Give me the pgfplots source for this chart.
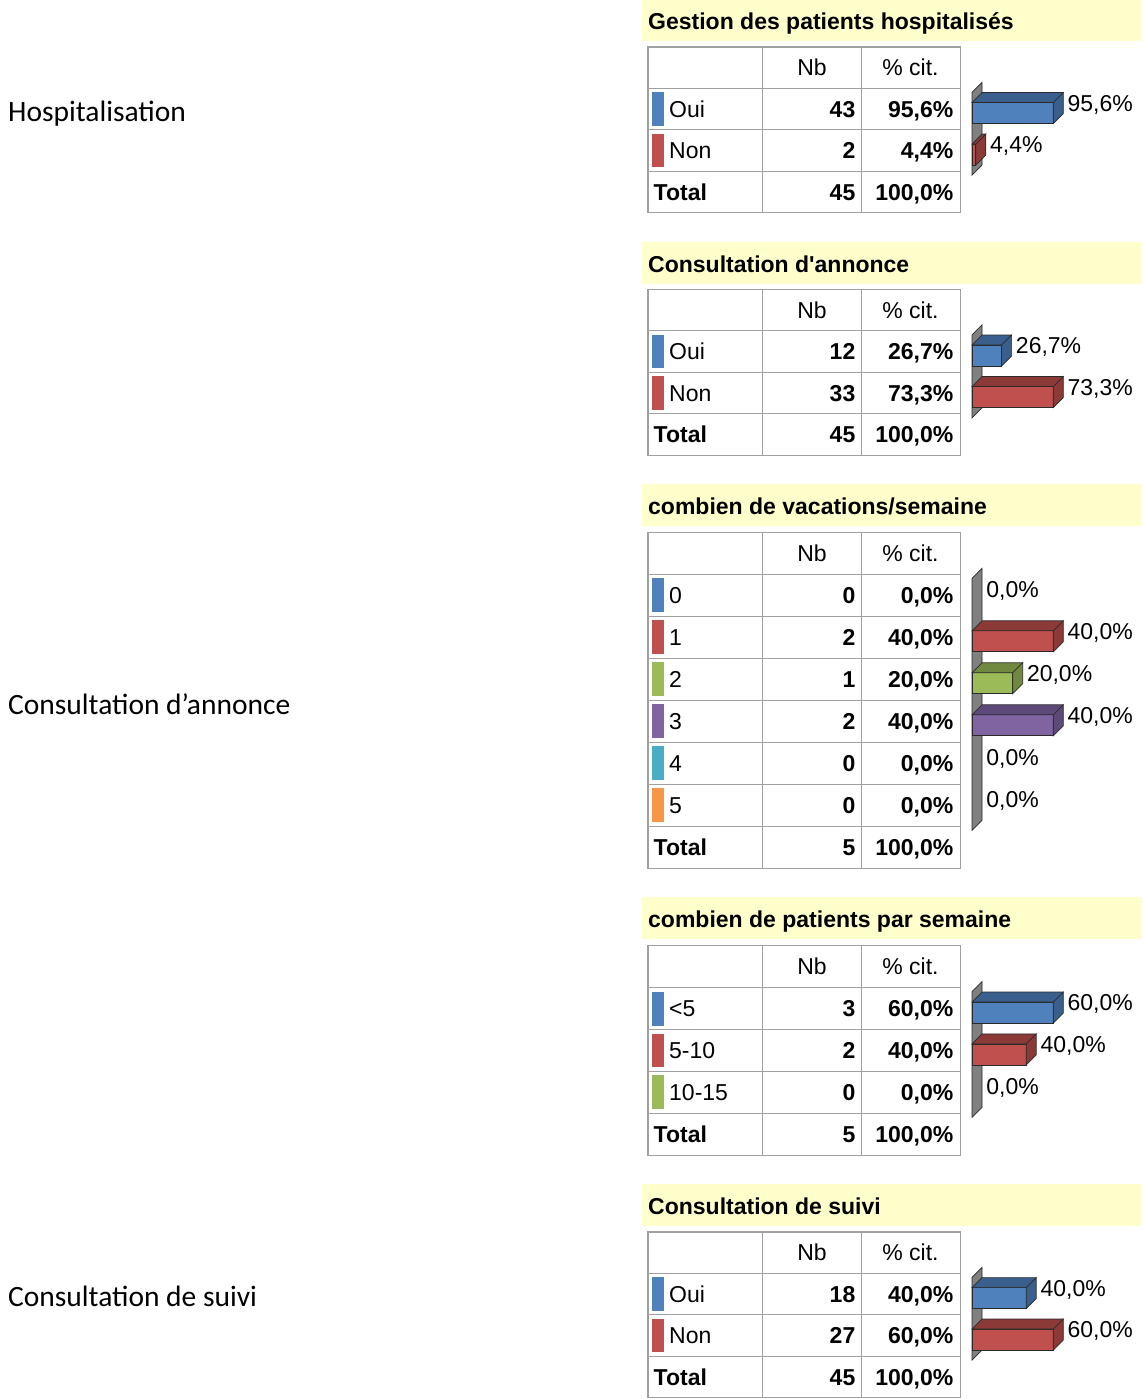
\documentclass[border=0pt]{standalone}
\usepackage{fontspec}
\setmainfont{Liberation Sans}
\newfontfamily\calibri{Carlito}
\usepackage{pgfplots}
\pgfplotsset{compat=1.18}
\definecolor{cblue}{HTML}{4F81BD}
\definecolor{dblue}{HTML}{3A5F8C}
\definecolor{cred}{HTML}{C0504D}
\definecolor{dred}{HTML}{8B3A38}
\definecolor{cgreen}{HTML}{9BBB59}
\definecolor{dgreen}{HTML}{71893F}
\definecolor{cpurple}{HTML}{8064A2}
\definecolor{dpurple}{HTML}{5D4A7A}
\definecolor{caqua}{HTML}{4BACC6}
\definecolor{corange}{HTML}{F79646}
\definecolor{titlebg}{HTML}{FFFFCC}
\definecolor{grid}{HTML}{A0A0A0}
\definecolor{wall}{HTML}{808080}
\definecolor{edge}{HTML}{2A2A2A}

\newcommand\fs{\fontsize{23}{27}\selectfont}
\def\xu{1}
\pgfdeclareplotmark{box3d}{%
  \pgfmathsetmacro\barL{\pval*\xu}%
  \pgfpathmoveto{\pgfpoint{-\barL pt}{10.5pt}}%
  \pgfpathlineto{\pgfpoint{0pt}{10.5pt}}%
  \pgfpathlineto{\pgfpoint{10pt}{20.5pt}}%
  \pgfpathlineto{\pgfpoint{-\barL pt+10pt}{20.5pt}}%
  \pgfpathclose
  \pgfpathmoveto{\pgfpoint{0pt}{-10.5pt}}%
  \pgfpathlineto{\pgfpoint{0pt}{10.5pt}}%
  \pgfpathlineto{\pgfpoint{10pt}{20.5pt}}%
  \pgfpathlineto{\pgfpoint{10pt}{-0.5pt}}%
  \pgfpathclose
  \pgfusepathqfillstroke
}
\pgfdeclareplotmark{nothing}{}
\pgfplotsset{
  front/.style={xbar, bar shift=0pt, bar width=21pt, fill=#1, draw=edge, line width=0.7pt},
  faces/.style={only marks, mark=box3d, mark options={fill=#1, draw=edge, line width=0.7pt},
    visualization depends on={value \thisrow{x}\as\pval},
    nodes near coords={\pgfmathprintnumber[fixed,fixed zerofill,precision=1,use comma,assume math mode=true]{\pval}\%},
    nodes near coords style={anchor=base west, inner sep=0pt, xshift=14pt, yshift=1.8pt, font=\fs, text=black}},
  zero/.style={faces=black, mark=nothing},
  bars/.style={anchor=north west, hide axis, clip=false, xmin=0, y dir=reverse, ymin=-0.5, y=#1 pt},
}

\newcommand\titlebar[2]{%
  \fill[titlebg] (642pt,{-#1*1pt}) rectangle (1142pt,{-(#1+41.5)*1pt});
  \node[anchor=base west,inner sep=0pt,font=\fs\bfseries] at (648pt,{-(#1+30)*1pt}) {#2};}
\newcommand\tgrid[3]{%
  \foreach \i in {0,...,#3} \draw[grid,line width=1.3pt,line cap=rect] (648pt,{-(#1+\i*#2)*1pt}) -- (960.5pt,{-(#1+\i*#2)*1pt});
  \foreach \xx in {648,762.5,861.5,960.5} \draw[grid,line width=1.3pt,line cap=rect] (\xx pt,{-#1*1pt}) -- (\xx pt,{-(#1+#3*#2)*1pt});
  \node[anchor=base,inner sep=0pt,font=\fs] at (812pt,{-(#1+0.5*#2+8.2)*1pt}) {Nb};
  \node[anchor=base,inner sep=0pt,font=\fs] at (910.5pt,{-(#1+0.5*#2+8.2)*1pt}) {\% cit.};}
\newcommand\drow[7]{%
  \fill[#4] (652pt,{-(#1+#3*#2+4)*1pt}) rectangle (663.5pt,{-(#1+(#3+1)*#2-4)*1pt});
  \node[anchor=base west,inner sep=0pt,font=\fs] at (669pt,{-(#1+(#3+0.5)*#2+8.2)*1pt}) {#5};
  \node[anchor=base east,inner sep=0pt,font=\fs\bfseries] at (855.5pt,{-(#1+(#3+0.5)*#2+8.2)*1pt}) {#6};
  \node[anchor=base east,inner sep=0pt,font=\fs\bfseries] at (953.5pt,{-(#1+(#3+0.5)*#2+8.2)*1pt}) {#7};}
\newcommand\trow[5]{%
  \node[anchor=base west,inner sep=0pt,font=\fs\bfseries] at (653.5pt,{-(#1+(#3+0.5)*#2+8.2)*1pt}) {Total};
  \node[anchor=base east,inner sep=0pt,font=\fs\bfseries] at (855.5pt,{-(#1+(#3+0.5)*#2+8.2)*1pt}) {#4};
  \node[anchor=base east,inner sep=0pt,font=\fs\bfseries] at (953.5pt,{-(#1+(#3+0.5)*#2+8.2)*1pt}) {#5};}

\begin{document}
\begin{tikzpicture}
\useasboundingbox (0,0) rectangle (1144pt,-1399pt);
% left labels
\node[anchor=base west,inner sep=0pt,font=\calibri\fontsize{29.5}{34}\selectfont] at (8pt,-121.7pt) {Hospitalisation};
\node[anchor=base west,inner sep=0pt,font=\calibri\fontsize{29.5}{34}\selectfont] at (8pt,-714.7pt) {Consultation d’annonce};
\node[anchor=base west,inner sep=0pt,font=\calibri\fontsize{29.5}{34}\selectfont] at (8pt,-1306pt) {Consultation de suivi};

% ---------- Section 1
\titlebar{0}{Gestion des patients hospitalisés}
\tgrid{47}{41.4}{4}
\drow{47}{41.4}{1}{cblue}{Oui}{43}{95,6\%}
\drow{47}{41.4}{2}{cred}{Non}{2}{4,4\%}
\trow{47}{41.4}{3}{45}{100,0\%}
\pgfmathsetmacro\xu{81.3/95.6}
\begin{axis}[bars=41.4, at={(972pt,{-(47+41.4+4)*1pt})}, x=\xu pt, xmax=95.6, ymax=1.5]
\filldraw[fill=wall,draw=edge,line width=0.7pt] (axis cs:0,-0.5) -- (axis cs:0,1.5) -- ++(10pt,10pt) -- ([shift={(10pt,10pt)}]axis cs:0,-0.5) -- cycle;
\addplot[front=cblue] table[row sep=\\]{x y\\ 95.6 0\\};
\addplot[faces=dblue] table[row sep=\\]{x y\\ 95.6 0\\};
\addplot[front=cred] table[row sep=\\]{x y\\ 4.4 1\\};
\addplot[faces=dred] table[row sep=\\]{x y\\ 4.4 1\\};
\end{axis}

% ---------- Section 2
\titlebar{242}{\addfontfeatures{Ligatures=TeXOff}Consultation d'annonce}
\tgrid{289.3}{41.5}{4}
\drow{289.3}{41.5}{1}{cblue}{Oui}{12}{26,7\%}
\drow{289.3}{41.5}{2}{cred}{Non}{33}{73,3\%}
\trow{289.3}{41.5}{3}{45}{100,0\%}
\pgfmathsetmacro\xu{81.3/73.3}
\begin{axis}[bars=41.5, at={(972pt,{-(289.3+41.5+4)*1pt})}, x=\xu pt, xmax=73.3, ymax=1.5]
\filldraw[fill=wall,draw=edge,line width=0.7pt] (axis cs:0,-0.5) -- (axis cs:0,1.5) -- ++(10pt,10pt) -- ([shift={(10pt,10pt)}]axis cs:0,-0.5) -- cycle;
\addplot[front=cblue] table[row sep=\\]{x y\\ 26.7 0\\};
\addplot[faces=dblue] table[row sep=\\]{x y\\ 26.7 0\\};
\addplot[front=cred] table[row sep=\\]{x y\\ 73.3 1\\};
\addplot[faces=dred] table[row sep=\\]{x y\\ 73.3 1\\};
\end{axis}

% ---------- Section 3
\titlebar{484}{combien de vacations/semaine}
\tgrid{532.3}{42}{8}
\drow{532.3}{42}{1}{cblue}{0}{0}{0,0\%}
\drow{532.3}{42}{2}{cred}{1}{2}{40,0\%}
\drow{532.3}{42}{3}{cgreen}{2}{1}{20,0\%}
\drow{532.3}{42}{4}{cpurple}{3}{2}{40,0\%}
\drow{532.3}{42}{5}{caqua}{4}{0}{0,0\%}
\drow{532.3}{42}{6}{corange}{5}{0}{0,0\%}
\trow{532.3}{42}{7}{5}{100,0\%}
\pgfmathsetmacro\xu{81.3/40}
\begin{axis}[bars=42, at={(972pt,{-(532.3+42+4)*1pt})}, x=\xu pt, xmax=40, ymax=5.5]
\filldraw[fill=wall,draw=edge,line width=0.7pt] (axis cs:0,-0.5) -- (axis cs:0,5.5) -- ++(10pt,10pt) -- ([shift={(10pt,10pt)}]axis cs:0,-0.5) -- cycle;
\addplot[zero] table[row sep=\\]{x y\\ 0 0\\};
\addplot[front=cred] table[row sep=\\]{x y\\ 40 1\\};
\addplot[faces=dred] table[row sep=\\]{x y\\ 40 1\\};
\addplot[front=cgreen] table[row sep=\\]{x y\\ 20 2\\};
\addplot[faces=dgreen] table[row sep=\\]{x y\\ 20 2\\};
\addplot[front=cpurple] table[row sep=\\]{x y\\ 40 3\\};
\addplot[faces=dpurple] table[row sep=\\]{x y\\ 40 3\\};
\addplot[zero] table[row sep=\\]{x y\\ 0 4\\};
\addplot[zero] table[row sep=\\]{x y\\ 0 5\\};
\end{axis}

% ---------- Section 4
\titlebar{897}{combien de patients par semaine}
\tgrid{945.7}{41.9}{5}
\drow{945.7}{41.9}{1}{cblue}{<5}{3}{60,0\%}
\drow{945.7}{41.9}{2}{cred}{5-10}{2}{40,0\%}
\drow{945.7}{41.9}{3}{cgreen}{10-15}{0}{0,0\%}
\trow{945.7}{41.9}{4}{5}{100,0\%}
\pgfmathsetmacro\xu{81.3/60}
\begin{axis}[bars=41.9, at={(972pt,{-(945.7+41.9+4)*1pt})}, x=\xu pt, xmax=60, ymax=2.5]
\filldraw[fill=wall,draw=edge,line width=0.7pt] (axis cs:0,-0.5) -- (axis cs:0,2.5) -- ++(10pt,10pt) -- ([shift={(10pt,10pt)}]axis cs:0,-0.5) -- cycle;
\addplot[front=cblue] table[row sep=\\]{x y\\ 60 0\\};
\addplot[faces=dblue] table[row sep=\\]{x y\\ 60 0\\};
\addplot[front=cred] table[row sep=\\]{x y\\ 40 1\\};
\addplot[faces=dred] table[row sep=\\]{x y\\ 40 1\\};
\addplot[zero] table[row sep=\\]{x y\\ 0 2\\};
\end{axis}

% ---------- Section 5
\titlebar{1184}{Consultation de suivi}
\tgrid{1232}{41.4}{4}
\drow{1232}{41.4}{1}{cblue}{Oui}{18}{40,0\%}
\drow{1232}{41.4}{2}{cred}{Non}{27}{60,0\%}
\trow{1232}{41.4}{3}{45}{100,0\%}
\pgfmathsetmacro\xu{81.3/60}
\begin{axis}[bars=41.4, at={(972pt,{-(1232+41.4+4)*1pt})}, x=\xu pt, xmax=60, ymax=1.5]
\filldraw[fill=wall,draw=edge,line width=0.7pt] (axis cs:0,-0.5) -- (axis cs:0,1.5) -- ++(10pt,10pt) -- ([shift={(10pt,10pt)}]axis cs:0,-0.5) -- cycle;
\addplot[front=cblue] table[row sep=\\]{x y\\ 40 0\\};
\addplot[faces=dblue] table[row sep=\\]{x y\\ 40 0\\};
\addplot[front=cred] table[row sep=\\]{x y\\ 60 1\\};
\addplot[faces=dred] table[row sep=\\]{x y\\ 60 1\\};
\end{axis}
\end{tikzpicture}
\end{document}
